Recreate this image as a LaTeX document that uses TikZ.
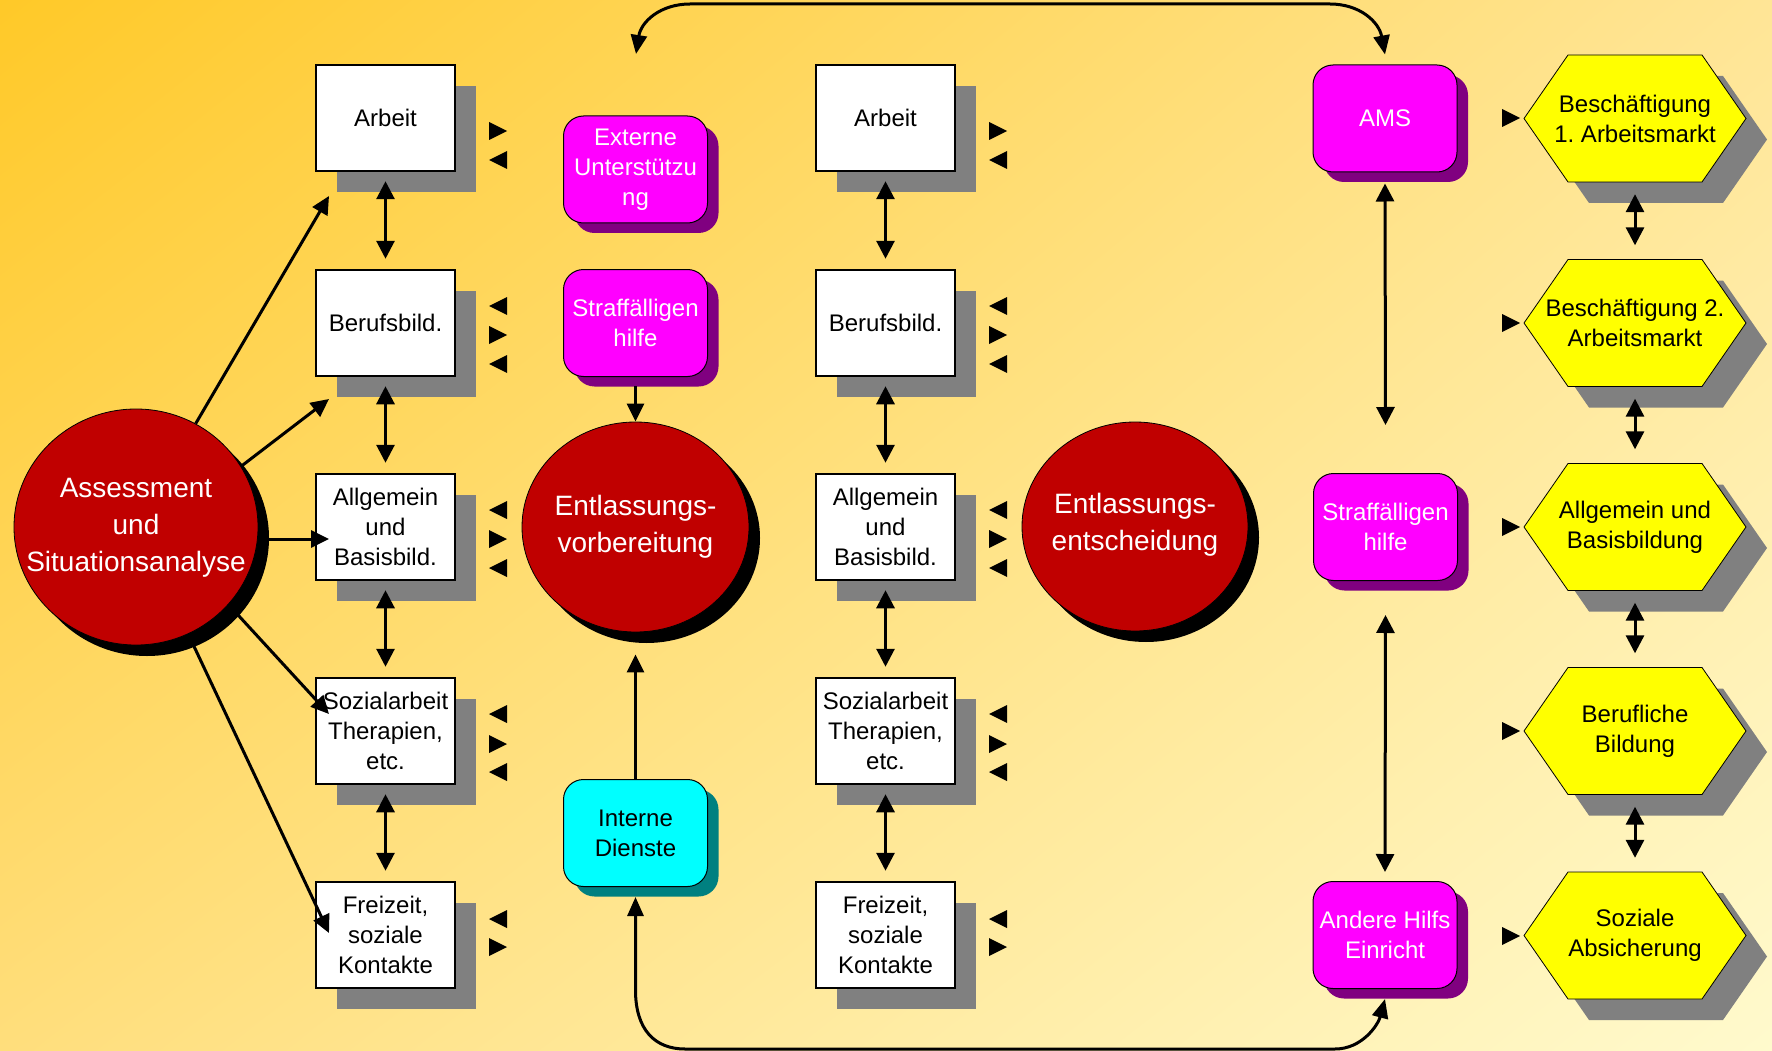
\documentclass[tikz,border=0pt]{standalone}
\usepackage{fontspec}
\setmainfont{Liberation Sans}
\usetikzlibrary{shapes.geometric,shadows,shadings,arrows.meta}

\definecolor{bgTL}{HTML}{FFC928}
\definecolor{bgTR}{HTML}{FFE596}
\definecolor{bgBL}{HTML}{FFDE7C}
\definecolor{bgBR}{HTML}{FFFACD}
\definecolor{redfill}{HTML}{C00000}
\definecolor{pinkfill}{HTML}{FF00FF}
\definecolor{pinkshadow}{HTML}{800080}
\definecolor{cyanfill}{HTML}{00FFFF}
\definecolor{cyanshadow}{HTML}{008080}
\definecolor{hexfill}{HTML}{FFFF00}
\definecolor{shgray}{HTML}{808080}

\newcommand\trR[2]{\fill[shift={(#1,#2)}] (-9,-9) -- (9,0) -- (-9,9) -- cycle;}
\newcommand\trL[2]{\fill[shift={(#1,#2)}] (9,-9) -- (-9,0) -- (9,9) -- cycle;}
\newcommand\hexbox[4]{%
  \fill[shgray,shift={(#2+21,#3+21)}] (-111,0) -- (-67,-63.5) -- (67,-63.5) -- (111,0) -- (67,63.5) -- (-67,63.5) -- cycle;
  \filldraw[fill=hexfill,draw=black,line width=0.8pt,shift={(#2,#3)}] (-111,0) -- (-67,-63.5) -- (67,-63.5) -- (111,0) -- (67,63.5) -- (-67,63.5) -- cycle;
  \node[hextext] (#1) at (#2,#3) {#4};
}

\begin{document}
\frenchspacing
\begin{tikzpicture}[x=1pt,y=-1pt,
  every node/.style={font=\fontsize{24}{30}\selectfont\frenchspacing},
  whitebox/.style={rectangle,draw=black,line width=2.5pt,fill=white,
    minimum width=139pt,minimum height=106pt,inner sep=0pt,align=center,
    drop shadow={shadow xshift=21pt,shadow yshift=-21pt,fill=shgray,opacity=1}},
  roundbase/.style={rectangle,rounded corners=20pt,draw=black,line width=1pt,
    minimum width=144pt,minimum height=107pt,inner sep=0pt,align=center},
  pinkbox/.style={roundbase,fill=pinkfill,text=white,
    drop shadow={shadow xshift=11pt,shadow yshift=-10pt,fill=pinkshadow,opacity=1}},
  cyanbox/.style={roundbase,fill=cyanfill,text=black,
    drop shadow={shadow xshift=11pt,shadow yshift=-10pt,fill=cyanshadow,opacity=1}},
  redell/.style={ellipse,draw=black,line width=0.8pt,fill=redfill,inner sep=0pt,
    drop shadow={shadow xshift=11pt,shadow yshift=-11pt,fill=black,opacity=1}},
  redtext/.style={text=white,align=center,inner sep=0pt,font=\fontsize{28}{37}\selectfont},
  hextext/.style={minimum width=222pt,minimum height=127pt,inner sep=0pt,align=center},
  conn/.style={line width=3pt,-{Triangle[length=18pt,width=17pt]}},
  dconn/.style={line width=3pt,{Triangle[length=18pt,width=18pt]}-{Triangle[length=18pt,width=18pt]}},
  cconn/.style={line width=3pt,{Triangle[length=19pt,width=16pt]}-{Triangle[length=19pt,width=16pt]}}
]
\shade[upper left=bgTL, upper right=bgTR, lower left=bgBL, lower right=bgBR] (0,0) rectangle (1772,1051);
\useasboundingbox (0,0) rectangle (1772,1051);

% ellipses
\node[redell,minimum width=244pt,minimum height=236pt] (assess) at (136,527) {};
\node[redtext] (assessT) at (136,528) {Assessment\\und\\Situationsanalyse};
\node[redell,minimum width=227pt,minimum height=210pt] (entv) at (635.5,527) {};
\node[redtext] (entvT) at (635.5,527) {Entlassungs-\\vorbereitung};
\node[redell,minimum width=226pt,minimum height=209pt] (entsch) at (1135,526.5) {};
\node[redtext] (entschT) at (1135,525) {Entlassungs-\\entscheidung};

% left column
\node[whitebox] (L1) at (385.5,118) {Arbeit};
\node[whitebox] (L2) at (385.5,323) {Berufsbild.};
\node[whitebox] (L3) at (385.5,527) {Allgemein\\und\\Basisbild.};
\node[whitebox] (L4) at (385.5,731) {Sozialarbeit\\Therapien,\\etc.};
\node[whitebox] (L5) at (385.5,935) {Freizeit,\\soziale\\Kontakte};
% middle column
\node[whitebox] (M1) at (885.5,118) {Arbeit};
\node[whitebox] (M2) at (885.5,323) {Berufsbild.};
\node[whitebox] (M3) at (885.5,527) {Allgemein\\und\\Basisbild.};
\node[whitebox] (M4) at (885.5,731) {Sozialarbeit\\Therapien,\\etc.};
\node[whitebox] (M5) at (885.5,935) {Freizeit,\\soziale\\Kontakte};

% rounded boxes
\node[pinkbox] (extern) at (635.5,169.5) {Externe\\Unterstützu\\ng};
\node[pinkbox] (straffM) at (635.5,323) {Straffälligen\\hilfe};
\node[cyanbox] (intern) at (635.5,833) {Interne\\Dienste};
\node[pinkbox] (ams) at (1385,118.5) {AMS};
\node[pinkbox] (straffR) at (1385.5,527) {Straffälligen\\hilfe};
\node[pinkbox] (andere) at (1385,935) {Andere Hilfs\\Einricht};

% hexagons
\hexbox{H1}{1635}{118.5}{Beschäftigung\\1. Arbeitsmarkt}
\hexbox{H2}{1635}{323}{Beschäftigung 2.\\Arbeitsmarkt}
\hexbox{H3}{1635}{527}{Allgemein und\\Basisbildung}
\hexbox{H4}{1635}{731}{Berufliche\\Bildung}
\hexbox{H5}{1635}{935.5}{Soziale\\Absicherung}

% assessment arrows
\coordinate (tA1) at (329,196);
\coordinate (tA2) at (329,399);
\coordinate (tA3) at (329,539);
\coordinate (tA4) at (329,714);
\coordinate (tA5) at (329,933);
\draw[conn] (assess.60) -- (tA1);
\draw[conn] (assess.30) -- (tA2);
\draw[conn] (assess.east |- tA3) -- (tA3);
\draw[conn] (assess.-40) -- (tA4);
\draw[conn] (assess.-64) -- (tA5);

% column double arrows
\foreach \c in {L,M}{
  \draw[dconn] ([yshift=-9pt]\c1.south) -- ([yshift=10pt]\c2.north);
  \draw[dconn] ([yshift=-9pt]\c2.south) -- ([yshift=10pt]\c3.north);
  \draw[dconn] ([yshift=-9pt]\c3.south) -- ([yshift=10pt]\c4.north);
  \draw[dconn] ([yshift=-9pt]\c4.south) -- ([yshift=10pt]\c5.north);
}
% hex arrows
\draw[dconn] ([yshift=-12pt]H1.south) -- ([yshift=14pt]H2.north);
\draw[dconn] ([yshift=-12pt]H2.south) -- ([yshift=14pt]H3.north);
\draw[dconn] ([yshift=-12pt]H3.south) -- ([yshift=14pt]H4.north);
\draw[dconn] ([yshift=-12pt]H4.south) -- ([yshift=14pt]H5.north);

% middle connectors
\draw[conn] ([yshift=-9pt]straffM.south) -- (entv.north);
\draw[conn] (intern.north) -- ([yshift=-22pt]entv.south);
% right column connectors
\draw[dconn] ([yshift=-11pt]ams.south) -- ([yshift=48pt]straffR.north);
\draw[dconn] ([yshift=-34pt]straffR.south) -- ([yshift=9pt]andere.north);

% curved connectors
\coordinate (topL) at (636,54);
\draw[cconn] (topL) .. controls (641,22) and (660,4) .. (690,4) -- (1330,4)
  .. controls (1360,4) and (1379,22) .. ([yshift=10pt]ams.north);
\draw[cconn] ([yshift=-10pt]intern.south) -- (635.5,990)
  .. controls (635.5,1030) and (655,1049) .. (685,1049) -- (1335,1049)
  .. controls (1362,1049) and (1378,1025) .. ([yshift=-10pt]andere.south);

% small triangles
\foreach \x in {498,998}{
  \trR{\x}{131} \trL{\x}{160}
  \trL{\x}{306} \trR{\x}{335} \trL{\x}{364}
  \trL{\x}{510} \trR{\x}{539} \trL{\x}{568}
  \trL{\x}{714} \trR{\x}{744} \trL{\x}{772}
  \trL{\x}{919} \trR{\x}{947}
}
\foreach \y in {118,323,527,731,936}{\trR{1511}{\y}}
\end{tikzpicture}
\end{document}
